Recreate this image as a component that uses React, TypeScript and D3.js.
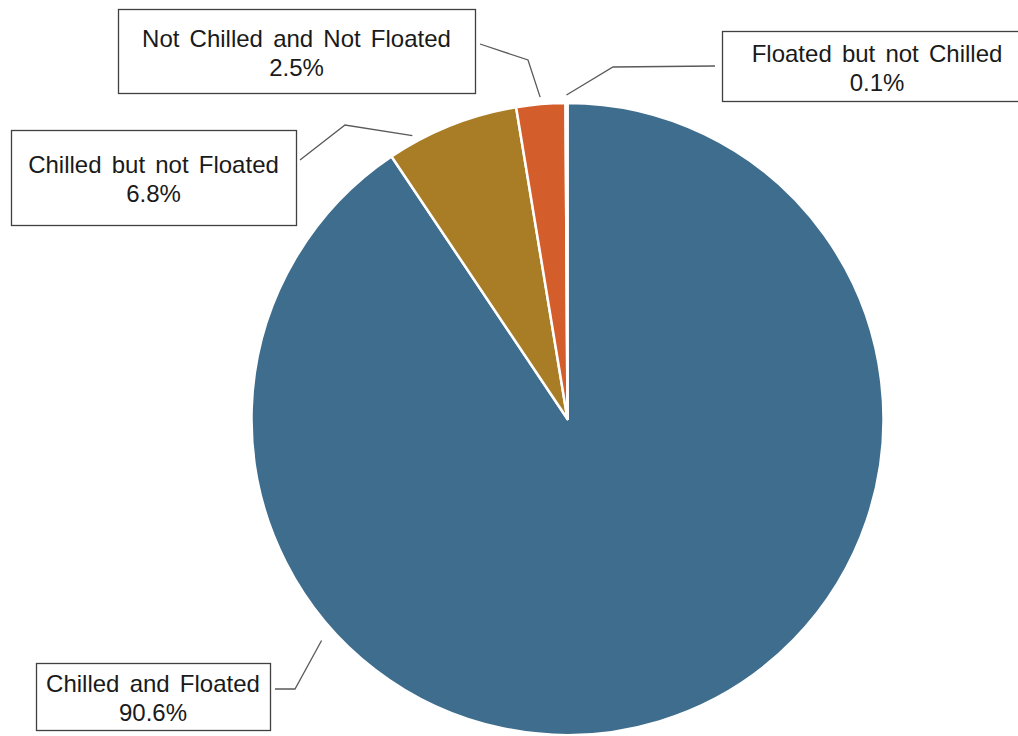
import React from "react";
import * as d3 from "d3";

// Share of catch by handling practice
const categories = [
  "Chilled and Floated",
  "Chilled but not Floated",
  "Not Chilled and Not Floated",
  "Floated but not Chilled",
];
const shares = [90.6, 6.8, 2.5, 0.1];
const labelTexts = ["90.6%", "6.8%", "2.5%", "0.1%"];
const colors = ["#3E6D8E", "#A97D25", "#D35D2B", "#3E6D8E"];

// Callout layout: box rect, elbow points of the leader, and where along
// the slice (0..1 of its sweep) the leader meets the rim.
type Callout = {
  box: [number, number, number, number];
  elbow: [number, number][];
  frac: number;
  gap: number;
};
const callouts: Callout[] = [
  { box: [36, 663, 234, 67], elbow: [[275, 689], [295, 689]], frac: 0.699, gap: 15 },
  { box: [11, 130, 285, 95], elbow: [[300, 160], [345, 125]], frac: 0.21, gap: 7 },
  { box: [118, 9, 357, 84], elbow: [[480, 44], [528, 60]], frac: 0.5, gap: 7 },
  { box: [722, 31, 310, 70], elbow: [[715, 66], [613, 67]], frac: 0.5, gap: 8 },
];

const W = 1018;
const H = 736;
const cx = 567.5;
const cy = 419;
const R = 316;

export default function App() {
  const pie = d3
    .pie<number>()
    .sort(null)
    .value((d) => d)
    .startAngle(0)
    .endAngle(2 * Math.PI);
  const arcs = pie(shares);
  const arc = d3.arc<d3.PieArcDatum<number>>().innerRadius(0).outerRadius(R);

  const font = "'Liberation Sans', Arial, sans-serif";

  return (
    <svg
      width={W}
      height={H}
      style={{ position: "absolute", left: 0, top: 0, background: "#fff" }}
    >
      <g transform={`translate(${cx},${cy})`}>
        {arcs.map((a, i) => (
          <path
            key={i}
            d={arc(a) || ""}
            fill={colors[i]}
            stroke="#fff"
            strokeWidth={2.5}
            strokeLinejoin="round"
          />
        ))}
      </g>
      {callouts.map((c, i) => {
        const a = arcs[i];
        const ang = a.startAngle + c.frac * (a.endAngle - a.startAngle);
        const rr = R + c.gap;
        const ax = cx + rr * Math.sin(ang);
        const ay = cy - rr * Math.cos(ang);
        const pts: [number, number][] = [...c.elbow, [ax, ay]];
        const [bx, by, bw, bh] = c.box;
        const mx = bx + bw / 2;
        const my = by + bh / 2;
        return (
          <g key={i}>
            <path
              d={d3.line()(pts) || ""}
              fill="none"
              stroke="#5a5a5a"
              strokeWidth={1.3}
            />
            <rect
              x={bx + 0.5}
              y={by + 0.5}
              width={bw}
              height={bh}
              fill="#fff"
              stroke="#404040"
              strokeWidth={1.3}
            />
            <text
              x={mx}
              textAnchor="middle"
              fontFamily={font}
              fontSize={24}
              fill="#1a1a1a"
              style={{ wordSpacing: "3.5px" }}
            >
              <tspan x={mx} y={my - 4.5}>
                {categories[i]}
              </tspan>
              <tspan x={mx} y={my + 24.5}>
                {labelTexts[i]}
              </tspan>
            </text>
          </g>
        );
      })}
    </svg>
  );
}
